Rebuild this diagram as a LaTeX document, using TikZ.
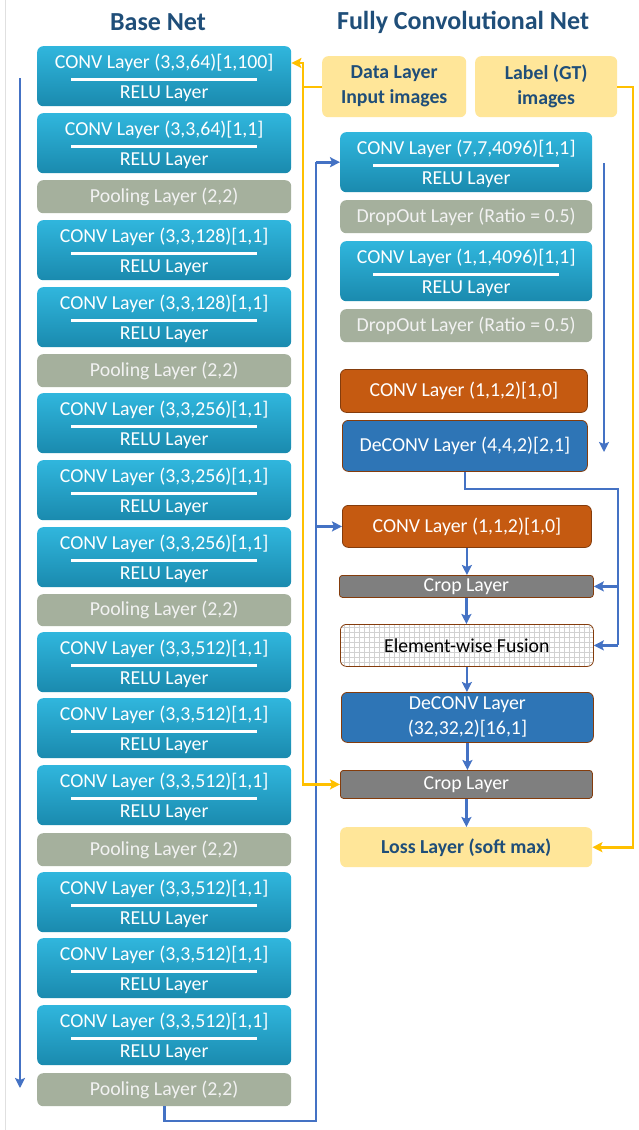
\documentclass[tikz,border=0pt]{standalone}
\usepackage{fontspec}
\setmainfont{Carlito}
\usetikzlibrary{arrows.meta,calc}
\definecolor{ttl}{RGB}{31,78,121}
\definecolor{convtop}{RGB}{48,182,221}
\definecolor{convbot}{RGB}{26,138,174}
\definecolor{poolc}{RGB}{165,176,157}
\definecolor{poolt}{RGB}{242,242,242}
\definecolor{yel}{RGB}{255,230,153}
\definecolor{orng}{RGB}{197,90,17}
\definecolor{dcv}{RGB}{46,117,182}
\definecolor{cropc}{RGB}{127,127,127}
\definecolor{brn}{RGB}{132,60,12}
\definecolor{lblue}{RGB}{68,114,196}
\definecolor{lyel}{RGB}{255,192,0}
\newcommand\lbl{\fontsize{19.8}{25}\selectfont}
\newcommand\bx[7]{\node[#1, minimum width={#5-#3}, minimum height={#6-#4}, anchor=north west] (#2) at (#3,#4) {#7};}
\newcommand\cv[6]{%
  \bx{convbox}{#1}{#2}{#3}{#4}{#5}{}
  \node[wtxt] at ($(#1.north)+(0,16.5)$) {#6};
  \draw[sepline] ($(#1.north)+(-93,33)$) -- ($(#1.north)+(93,33)$);
  \node[wtxt] at ($(#1.north)+(0,48)$) {RELU Layer};}
\begin{document}
\begin{tikzpicture}[x=1pt,y=-1pt,
  box/.style={rounded corners=6pt, inner sep=0pt, font=\lbl, align=center},
  convbox/.style={box, top color=convtop, bottom color=convbot},
  wtxt/.style={text=white, font=\lbl, inner sep=0pt},
  sepline/.style={white, line width=3pt},
  poolbox/.style={box, fill=poolc, text=poolt},
  yelbox/.style={box, fill=yel, text=ttl, font=\lbl\bfseries},
  orbox/.style={box, fill=orng, draw=brn, line width=0.8pt, text=white},
  dcbox/.style={box, fill=dcv, draw=brn, line width=0.8pt, text=white},
  cropbox/.style={box, rounded corners=3pt, fill=cropc, draw=brn, line width=0.8pt, text=white},
  fusbox/.style={box, fill=white, draw=brn, line width=0.8pt, text=black,
    path picture={\draw[black!18, line width=0.5pt] (path picture bounding box.south west) grid[step=5pt] (path picture bounding box.north east);}},
  title/.style={font=\fontsize{26}{30}\selectfont\bfseries, text=ttl},
  barrow/.style={lblue, line width=2.6pt, -{Stealth[length=10pt,width=10pt,inset=2pt]}},
  bline/.style={lblue, line width=2.6pt},
  yarrow/.style={lyel, line width=2.6pt, -{Stealth[length=10pt,width=10pt,inset=2pt]}},
  yline/.style={lyel, line width=2.6pt}]
\useasboundingbox[fill=white] (0,0) rectangle (639,1130);
\draw[black!12, line width=1pt] (5.5,0) -- (5.5,1130);

\node[title] (t1) at (158,22) {Base Net};
\node[title] (t2) at (463,22) {Fully Convolutional Net};

% base net
\cv{c1}{37}{46}{291}{106}{CONV Layer (3,3,64)[1,100]}
\cv{c2}{37}{113}{291}{173}{CONV Layer (3,3,64)[1,1]}
\bx{poolbox}{p1}{37}{180}{291}{213}{Pooling Layer (2,2)}
\cv{c3}{37}{220}{291}{280}{CONV Layer (3,3,128)[1,1]}
\cv{c4}{37}{287}{291}{347}{CONV Layer (3,3,128)[1,1]}
\bx{poolbox}{p2}{37}{354}{291}{387}{Pooling Layer (2,2)}
\cv{c5}{37}{393}{291}{453}{CONV Layer (3,3,256)[1,1]}
\cv{c6}{37}{460}{291}{520}{CONV Layer (3,3,256)[1,1]}
\cv{c7}{37}{527}{291}{587}{CONV Layer (3,3,256)[1,1]}
\bx{poolbox}{p3}{37}{594}{291}{626}{Pooling Layer (2,2)}
\cv{c8}{37}{632}{291}{692}{CONV Layer (3,3,512)[1,1]}
\cv{c9}{37}{698}{291}{758}{CONV Layer (3,3,512)[1,1]}
\cv{c10}{37}{765}{291}{825}{CONV Layer (3,3,512)[1,1]}
\bx{poolbox}{p4}{37}{833}{291}{866}{Pooling Layer (2,2)}
\cv{c11}{37}{872}{291}{932}{CONV Layer (3,3,512)[1,1]}
\cv{c12}{37}{938}{291}{998}{CONV Layer (3,3,512)[1,1]}
\cv{c13}{37}{1005}{291}{1065}{CONV Layer (3,3,512)[1,1]}
\bx{poolbox}{p5}{37}{1073}{291}{1106}{Pooling Layer (2,2)}

% FCN
\bx{yelbox}{data}{322}{56}{466}{117}{Data Layer\\Input images}
\bx{yelbox}{label}{475}{56}{617}{117}{Label (GT)\\images}
\cv{f1}{340}{132}{592}{192}{CONV Layer (7,7,4096)[1,1]}
\bx{poolbox}{d1}{340}{200}{592}{233}{DropOut Layer (Ratio = 0.5)}
\cv{f2}{340}{241}{592}{301}{CONV Layer (1,1,4096)[1,1]}
\bx{poolbox}{d2}{340}{309}{592}{342}{DropOut Layer (Ratio = 0.5)}
\bx{orbox}{o1}{340}{369}{587}{412}{CONV Layer (1,1,2)[1,0]}
\bx{dcbox}{dc1}{342}{420}{587}{471}{DeCONV Layer (4,4,2)[2,1]}
\bx{orbox}{o2}{342}{505}{591}{547}{CONV Layer (1,1,2)[1,0]}
\bx{cropbox}{cr1}{339}{575}{593}{597}{Crop Layer}
\bx{fusbox}{fus}{340}{624}{593}{666}{Element-wise Fusion}
\bx{dcbox}{dc2}{341}{692}{593}{742}{DeCONV Layer\\(32,32,2)[16,1]}
\bx{cropbox}{cr2}{340}{770}{592}{798}{Crop Layer}
\bx{yelbox}{loss}{340}{827}{592}{867}{Loss Layer (soft max)}

% free arrows
\coordinate (la1) at (20,78);
\coordinate (la2) at (20,1088);
\draw[barrow] (la1) -- (la2);
\coordinate (ra1) at (604,163);
\coordinate (ra2) at (604,452);
\draw[barrow] (ra1) -- (ra2);

% skip path from pool
\coordinate (sk) at (316,1121);
\draw[bline] (p5.south) |- (sk) -- (sk |- f1.west);
\draw[barrow] (sk |- f1.west) -- (f1.west);
\draw[barrow] (sk |- o2.west) -- (o2.west);

% deconv1 path
\coordinate (dj) at (618,489);
\draw[bline] (dc1.south) |- (dj) -- (dj |- fus.east);
\draw[barrow] (dj |- cr1.east) -- (cr1.east);
\draw[barrow] (dj |- fus.east) -- (fus.east);

% vertical chain
\draw[barrow] (o2.south) -- (o2.south |- cr1.north);
\draw[barrow] (cr1.south) -- (cr1.south |- fus.north);
\draw[barrow] (fus.south) -- (fus.south |- dc2.north);
\draw[barrow] (dc2.south) -- (dc2.south |- cr2.north);
\draw[barrow] (cr2.south) -- (cr2.south |- loss.north);

% yellow
\coordinate (yj) at (303,87);
\draw[yline] (data.west |- yj) -- (yj);
\draw[yarrow] (yj) |- ($(c1.north east)+(0,17)$);
\draw[yarrow] (yj) |- (cr2.west);
\coordinate (lj) at (633,87);
\draw[yarrow] (label.east |- lj) -- (lj) |- (loss.east);
\end{tikzpicture}
\end{document}
